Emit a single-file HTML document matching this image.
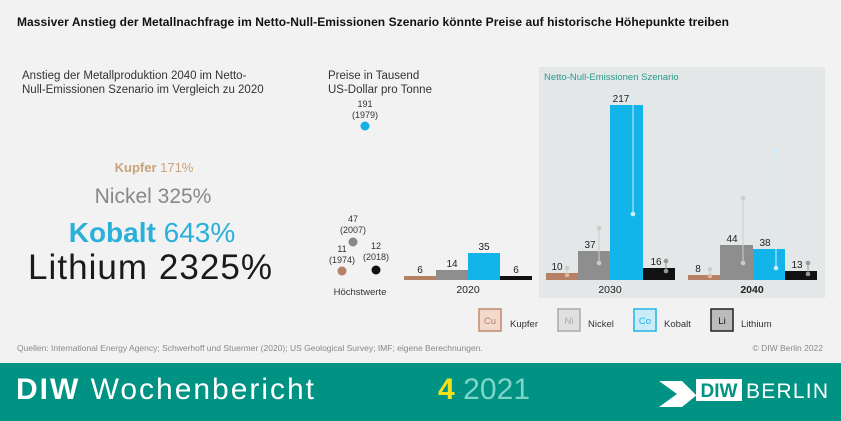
<!DOCTYPE html><html><head><meta charset="utf-8"><style>body{margin:0}svg{display:block}text{font-family:"Liberation Sans",sans-serif}</style></head><body>
<svg width="841" height="421" viewBox="0 0 841 421">
<rect width="841" height="421" fill="#f2f2f2"/>
<text x="17" y="26" font-size="12" font-weight="bold" fill="#111" textLength="712">Massiver Anstieg der Metallnachfrage im Netto-Null-Emissionen Szenario könnte Preise auf historische Höhepunkte treiben</text>
<text x="22" y="79" font-size="11.5" fill="#333">Anstieg der Metallproduktion 2040 im Netto-</text>
<text x="22" y="93" font-size="11.5" fill="#333">Null-Emissionen Szenario im Vergleich zu 2020</text>
<g text-anchor="middle">
<text x="154" y="172" font-size="13" fill="#c9a37a"><tspan font-weight="bold">Kupfer</tspan> 171%</text>
<text x="153" y="203" font-size="21" fill="#888">Nickel 325%</text>
<text x="152" y="242" font-size="28" fill="#2ab0d9"><tspan font-weight="bold">Kobalt</tspan> 643%</text>
<text x="150" y="279" font-size="35" fill="#1a1a1a" textLength="244">Lithium 2325%</text>
</g>
<text x="328" y="79" font-size="11.5" fill="#333">Preise in Tausend</text>
<text x="328" y="93" font-size="11.5" fill="#333">US-Dollar pro Tonne</text>
<g font-size="9" fill="#333" text-anchor="middle">
<text x="365" y="107">191</text><text x="365" y="118">(1979)</text>
<text x="353" y="222">47</text><text x="353" y="233">(2007)</text>
<text x="342" y="252">11</text><text x="342" y="263">(1974)</text>
<text x="376" y="249">12</text><text x="376" y="260">(2018)</text>
<text x="360" y="295" font-size="9.5">Höchstwerte</text>
</g>
<circle cx="365" cy="126" r="4.5" fill="#17b0e6"/>
<circle cx="353" cy="242" r="4.5" fill="#888"/>
<circle cx="342" cy="271" r="4.5" fill="#b58064"/>
<circle cx="376" cy="270" r="4.5" fill="#111"/>
<rect x="539" y="67" width="286" height="231" fill="#e3e7e8"/>
<text x="544" y="80" font-size="9.5" fill="#2a9a8c">Netto-Null-Emissionen Szenario</text>
<rect x="404" y="276" width="32" height="4" fill="#b58064"/>
<rect x="436" y="270" width="32" height="10" fill="#8e8e8e"/>
<rect x="468" y="253" width="32" height="27" fill="#12b4ea"/>
<rect x="500" y="276" width="32" height="4" fill="#111"/>
<rect x="546" y="273" width="32" height="7" fill="#b58064"/>
<rect x="578" y="251" width="32" height="29" fill="#8e8e8e"/>
<rect x="610" y="105" width="33" height="175" fill="#12b4ea"/>
<rect x="643" y="268" width="32" height="12" fill="#111"/>
<rect x="688" y="275" width="32" height="5" fill="#b58064"/>
<rect x="720" y="245" width="33" height="35" fill="#8e8e8e"/>
<rect x="753" y="249" width="32" height="31" fill="#12b4ea"/>
<rect x="785" y="271" width="32" height="9" fill="#111"/>
<g stroke-width="1">
<line x1="567" y1="268" x2="567" y2="275" stroke="#ccc"/>
<line x1="599" y1="228" x2="599" y2="263" stroke="#ccc"/>
<line x1="633" y1="97" x2="633" y2="214" stroke="#cfeefa"/>
<line x1="666" y1="261" x2="666" y2="271" stroke="#999"/>
<line x1="710" y1="269" x2="710" y2="276" stroke="#ccc"/>
<line x1="743" y1="198" x2="743" y2="263" stroke="#ccc"/>
<line x1="776" y1="151" x2="776" y2="268" stroke="#cfeefa"/>
<line x1="808" y1="263" x2="808" y2="274" stroke="#999"/>
</g>
<g>
<circle cx="567" cy="268" r="2.3" fill="#ccc"/><circle cx="567" cy="275" r="2.3" fill="#d8b7a5"/>
<circle cx="599" cy="228" r="2.3" fill="#ccc"/><circle cx="599" cy="263" r="2.3" fill="#ccc"/>
<circle cx="633" cy="97" r="2.3" fill="#cfeefa"/><circle cx="633" cy="214" r="2.3" fill="#cfeefa"/>
<circle cx="666" cy="261" r="2.3" fill="#999"/><circle cx="666" cy="271" r="2.3" fill="#999"/>
<circle cx="710" cy="269" r="2.3" fill="#ccc"/><circle cx="710" cy="276" r="2.3" fill="#d8b7a5"/>
<circle cx="743" cy="198" r="2.3" fill="#ccc"/><circle cx="743" cy="263" r="2.3" fill="#ccc"/>
<circle cx="776" cy="151" r="2.3" fill="#cfeefa"/><circle cx="776" cy="268" r="2.3" fill="#cfeefa"/>
<circle cx="808" cy="263" r="2.3" fill="#999"/><circle cx="808" cy="274" r="2.3" fill="#999"/>
</g>
<g font-size="10" fill="#222" text-anchor="middle">
<text x="420" y="273">6</text><text x="452" y="267">14</text><text x="484" y="250">35</text><text x="516" y="273">6</text>
<text x="557" y="270">10</text><text x="590" y="248">37</text><text x="621" y="102">217</text><text x="656" y="265">16</text>
<text x="698" y="272">8</text><text x="732" y="242">44</text><text x="765" y="246">38</text><text x="797" y="268">13</text>
<text x="468" y="293" font-size="10.5">2020</text><text x="610" y="293" font-size="10.5">2030</text><text x="752" y="293" font-size="10.5" font-weight="bold">2040</text>
</g>
<g font-size="9.5">
<rect x="479" y="309" width="22" height="22" fill="#f3d9cc" stroke="#c08a70" stroke-width="1.5"/><text x="490" y="324" text-anchor="middle" fill="#b58064">Cu</text><text x="510" y="327" fill="#333">Kupfer</text>
<rect x="558" y="309" width="22" height="22" fill="#e0e0e0" stroke="#aaa" stroke-width="1.5"/><text x="569" y="324" text-anchor="middle" fill="#aaa">Ni</text><text x="588" y="327" fill="#333">Nickel</text>
<rect x="634" y="309" width="22" height="22" fill="#c9ecf8" stroke="#22b5e6" stroke-width="1.5"/><text x="645" y="324" text-anchor="middle" fill="#22b5e6">Co</text><text x="664" y="327" fill="#333">Kobalt</text>
<rect x="711" y="309" width="22" height="22" fill="#bbb" stroke="#222" stroke-width="1.5"/><text x="722" y="324" text-anchor="middle" fill="#111">Li</text><text x="741" y="327" fill="#333">Lithium</text>
</g>
<text x="17" y="351" font-size="8.5" fill="#888">Quellen: International Energy Agency; Schwerhoff und Stuermer (2020); US Geological Survey; IMF; eigene Berechnungen.</text>
<text x="823" y="351" font-size="8.5" fill="#888" text-anchor="end">© DIW Berlin 2022</text>
<rect x="0" y="363" width="841" height="58" fill="#009383"/>
<text x="16" y="399" font-size="30" fill="#fff" textLength="298"><tspan font-weight="bold">DIW</tspan> Wochenbericht</text>
<text x="438" y="399" font-size="30" fill="#7fd4c9" textLength="92"><tspan fill="#f2e21c" font-weight="bold">4</tspan> 2021</text>
<path d="M659 381 L682 381 L698 397 L714 381 L682 407 L659 407 L677 394 Z" fill="#fff"/>
<rect x="696" y="379" width="46" height="22" fill="#fff"/>
<text x="719" y="397" font-size="19" font-weight="bold" fill="#009383" text-anchor="middle">DIW</text>
<text x="746" y="398" font-size="21" fill="#fff" textLength="82">BERLIN</text>
</svg>
</body></html>
